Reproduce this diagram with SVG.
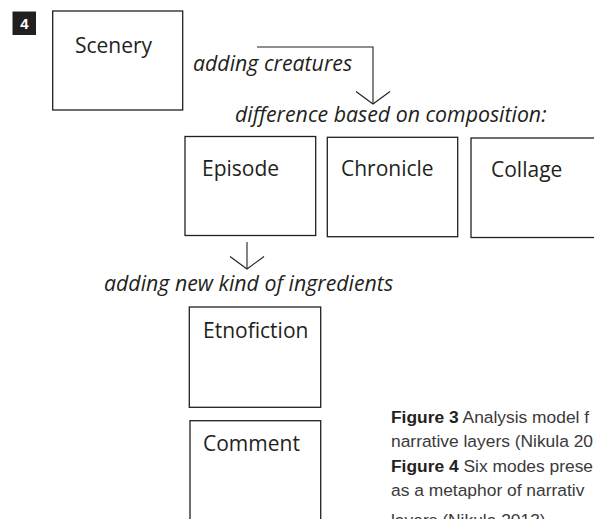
<svg xmlns="http://www.w3.org/2000/svg" width="594" height="519" viewBox="0 0 594 519">
  <style>
    .box { fill: #ffffff; stroke: #231f20; stroke-width: 1.3; }
    .label { font-family: "Open Sans", "Noto Sans", sans-serif; font-size: 21px; fill: #231f20; }
    .step { font-family: "Open Sans", "Noto Sans", sans-serif; font-style: italic; font-size: 21.3px; fill: #231f20; }
    .link { fill: none; stroke: #231f20; stroke-width: 1.1; }
    .caption { font-family: "Liberation Sans", Arial, sans-serif; font-size: 17.4px; fill: #3a3a3a; }
    .caption .b { font-weight: bold; fill: #231f20; }
  </style>
  <defs>
    <marker id="vhead" markerUnits="userSpaceOnUse" markerWidth="40" markerHeight="40" viewBox="-20 -20 40 40" refX="0" refY="0" orient="auto">
      <path d="M-12.5,-17 L0,0 L-12.5,17" fill="none" stroke="#231f20" stroke-width="1.1"/>
    </marker>
  </defs>

  <rect width="594" height="519" fill="#ffffff"/>

  <!-- figure number tag -->
  <g id="tag">
    <rect x="12.5" y="11.5" width="23.5" height="23.5" fill="#231f20"/>
    <text x="24.3" y="29" text-anchor="middle" font-family="Liberation Sans, Arial, sans-serif" font-weight="bold" font-size="15" fill="#ffffff">4</text>
  </g>

  <!-- connectors -->
  <g id="connectors">
    <path class="link" d="M257,47 H373 V104" marker-end="url(#vhead)"/>
    <path class="link" d="M247,242 V269" marker-end="url(#vhead)"/>
  </g>

  <!-- transition labels -->
  <g id="labels">
    <text class="step" x="193" y="71">adding creatures</text>
    <text class="step" x="235" y="122">difference based on composition:</text>
    <text class="step" x="104" y="291">adding new kind of ingredients</text>
  </g>

  <!-- nodes -->
  <g id="scenery">
    <rect class="box" x="52.7" y="11" width="130" height="99"/>
    <text class="label" x="75" y="53">Scenery</text>
  </g>
  <g id="episode">
    <rect class="box" x="185" y="136.5" width="130.7" height="99"/>
    <text class="label" x="202" y="176">Episode</text>
  </g>
  <g id="chronicle">
    <rect class="box" x="327.3" y="137.3" width="130.4" height="99.4"/>
    <text class="label" x="341" y="176">Chronicle</text>
  </g>
  <g id="collage">
    <rect class="box" x="471" y="138" width="131" height="99.5"/>
    <text class="label" x="491" y="177">Collage</text>
  </g>
  <g id="etnofiction">
    <rect class="box" x="189.3" y="307" width="131.4" height="100.3"/>
    <text class="label" x="203" y="338">Etnofiction</text>
  </g>
  <g id="comment">
    <rect class="box" x="190" y="420.7" width="130.7" height="101"/>
    <text class="label" x="203" y="451">Comment</text>
  </g>

  <!-- caption -->
  <g id="caption" class="caption">
    <text x="391" y="423"><tspan class="b">Figure 3</tspan> Analysis model f</text>
    <text x="391" y="447.3">narrative layers (Nikula 20</text>
    <text x="391" y="471.6"><tspan class="b">Figure 4</tspan> Six modes prese</text>
    <text x="391" y="495.9">as a metaphor of narrativ</text>
    <text x="391" y="526">layers (Nikula 2013).</text>
  </g>
</svg>
